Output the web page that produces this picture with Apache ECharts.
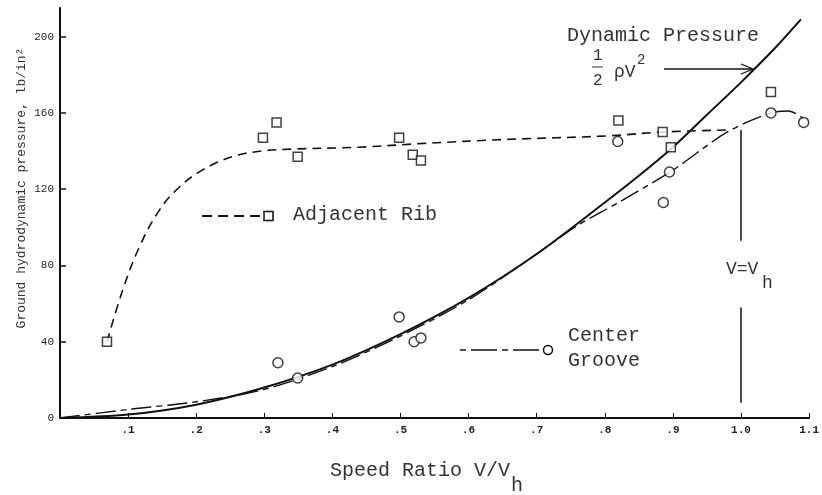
<!DOCTYPE html>
<html>
<head>
<meta charset="utf-8">
<script src="https://cdn.jsdelivr.net/npm/echarts@6/dist/echarts.min.js"></script>
<style>
html,body{margin:0;padding:0;background:#fff;}
#chart{width:822px;height:495px;}
</style>
</head>
<body>
<div id="chart"></div>
<script>
// Dynamic pressure curve (1/2 rho V^2)
const pressureX = [0, 0.1, 0.2, 0.3, 0.4, 0.5, 0.6, 0.7, 0.8, 0.85, 0.9, 0.95, 1.0, 1.05, 1.088];
const pressureY = [0, 1.8, 7, 16, 28, 44, 63, 86, 113, 127, 142, 159, 176, 194, 209];
// Adjacent Rib faired curve
const ribCurveX = [0.069, 0.092, 0.117, 0.146, 0.175, 0.209, 0.253, 0.296, 0.34, 0.438, 0.535, 0.65, 0.807, 0.886, 0.98];
const ribCurveY = [40, 67, 90, 109, 121, 130, 137, 140, 141, 142, 144, 146, 148, 150, 151];
// Center Groove faired curve
const grooveCurveX = [0, 0.1, 0.2, 0.3, 0.4, 0.5, 0.6, 0.7, 0.76, 0.82, 0.9, 0.98, 1.044, 1.07, 1.092];
const grooveCurveY = [0, 4.5, 8.5, 15, 27, 43, 62, 86, 101, 113, 130, 150, 160, 161, 157];
// Measured points
const ribPointsX = [0.069, 0.298, 0.318, 0.349, 0.498, 0.518, 0.530, 0.820, 0.885, 0.897, 1.044];
const ribPointsY = [40, 147, 155, 137, 147, 138, 135, 156, 150, 142, 171];
const groovePointsX = [0.320, 0.349, 0.498, 0.520, 0.530, 0.819, 0.886, 0.895, 1.044, 1.092];
const groovePointsY = [29, 21, 53, 40, 42, 145, 113, 129, 160, 155];
// V = Vh marker line segments
const vhLowerY = [8, 58];
const vhUpperY = [93, 151];
const vhX = 1.0;
// Axis ticks
const yTicks = [0, 40, 80, 120, 160, 200];
const xTickLabels = ['', '.1', '.2', '.3', '.4', '.5', '.6', '.7', '.8', '.9', '1.0', '1.1'];

const zip = (xs, ys) => xs.map((x, i) => [x, ys[i]]);
const MONO = '"Liberation Mono", "DejaVu Sans Mono", monospace';
const INK = '#111';
const TXT = '#333';

const chart = echarts.init(document.getElementById('chart'), null, {renderer: 'canvas'});

const option = {
  animation: false,
  backgroundColor: '#fff',
  grid: {left: 60, right: 9, top: 8, bottom: 77, containLabel: false},
  xAxis: {
    type: 'value', min: 0, max: 1.1, interval: 0.1,
    axisLine: {show: true, lineStyle: {color: INK, width: 2}},
    axisTick: {show: true, inside: true, length: 5, lineStyle: {color: INK, width: 1}},
    axisLabel: {
      margin: 7, color: '#222', fontFamily: MONO, fontSize: 11, fontWeight: 'bold',
      formatter: v => xTickLabels[Math.round(v * 10)] || ''
    },
    splitLine: {show: false}
  },
  yAxis: {
    type: 'value', min: 0, max: 215, interval: 40,
    axisLine: {show: true, lineStyle: {color: INK, width: 2}},
    axisTick: {show: true, inside: true, length: 6, lineStyle: {color: INK, width: 1.5}},
    axisLabel: {
      margin: 6, color: '#222', fontFamily: MONO, fontSize: 11,
      showMaxLabel: false,
      formatter: v => yTicks.indexOf(v) >= 0 ? String(v) : ''
    },
    splitLine: {show: false}
  },
  series: [
    {
      name: 'Dynamic Pressure', type: 'line', smooth: 0.3, symbol: 'none',
      data: zip(pressureX, pressureY),
      lineStyle: {color: INK, width: 2}
    },
    {
      name: 'Adjacent Rib curve', type: 'line', smooth: 0.4, symbol: 'none',
      data: zip(ribCurveX, ribCurveY),
      lineStyle: {color: INK, width: 1.6, type: [9, 6]}
    },
    {
      name: 'Center Groove curve', type: 'line', smooth: 0.3, symbol: 'none',
      data: zip(grooveCurveX, grooveCurveY),
      lineStyle: {color: INK, width: 1.4, type: [20, 5, 6, 5]}
    },
    {
      name: 'Adjacent Rib', type: 'scatter', symbol: 'rect', symbolSize: 9,
      data: zip(ribPointsX, ribPointsY),
      itemStyle: {color: '#fff', borderColor: INK, borderWidth: 1.5}, z: 5
    },
    {
      name: 'Center Groove', type: 'scatter', symbol: 'circle', symbolSize: 10,
      data: zip(groovePointsX, groovePointsY),
      itemStyle: {color: '#fff', borderColor: INK, borderWidth: 1.5}, z: 5
    },
    {
      name: 'Vh lower', type: 'line', symbol: 'none',
      data: vhLowerY.map(y => [vhX, y]),
      lineStyle: {color: INK, width: 1.5}
    },
    {
      name: 'Vh upper', type: 'line', symbol: 'none',
      data: vhUpperY.map(y => [vhX, y]),
      lineStyle: {color: INK, width: 1.5}
    }
  ],
  graphic: [
    // Y axis title
    {type: 'text', x: 22, y: 188, rotation: Math.PI / 2,
     style: {text: 'Ground hydrodynamic pressure, lb/in\u00B2', font: '13px ' + MONO, fill: TXT, align: 'center', verticalAlign: 'middle'}},
    // Dynamic Pressure annotation
    {type: 'text', left: 567, top: 26, style: {text: 'Dynamic Pressure', font: '20px ' + MONO, fill: TXT}},
    {type: 'text', left: 593, top: 48, style: {text: '1', font: '16px ' + MONO, fill: TXT}},
    {type: 'line', shape: {x1: 592, y1: 67, x2: 603, y2: 67}, style: {stroke: TXT, lineWidth: 1}},
    {type: 'text', left: 593, top: 73, style: {text: '2', font: '16px ' + MONO, fill: TXT}},
    {type: 'text', left: 614, top: 63, style: {text: '\u03C1V', font: '18px ' + MONO, fill: TXT}},
    {type: 'text', left: 637, top: 53, style: {text: '2', font: '14px ' + MONO, fill: TXT}},
    {type: 'line', shape: {x1: 664, y1: 69, x2: 752, y2: 69}, style: {stroke: INK, lineWidth: 1.3}},
    {type: 'polyline', shape: {points: [[741, 64], [753, 69], [741, 74]]}, style: {stroke: INK, lineWidth: 1.3, fill: null}},
    // Adjacent Rib legend
    {type: 'line', shape: {x1: 202, y1: 216, x2: 262, y2: 216}, style: {stroke: INK, lineWidth: 1.8, lineDash: [10, 6]}},
    {type: 'rect', shape: {x: 264, y: 211.5, width: 9, height: 9}, style: {stroke: INK, lineWidth: 1.5, fill: '#fff'}},
    {type: 'text', left: 293, top: 205, style: {text: 'Adjacent Rib', font: '20px ' + MONO, fill: TXT}},
    // Center Groove legend
    {type: 'line', shape: {x1: 460, y1: 350, x2: 543, y2: 350}, style: {stroke: INK, lineWidth: 1.6, lineDash: [6, 5, 26, 5]}},
    {type: 'circle', shape: {cx: 548, cy: 350, r: 4.5}, style: {stroke: INK, lineWidth: 1.5, fill: '#fff'}},
    {type: 'text', left: 568, top: 326, style: {text: 'Center', font: '20px ' + MONO, fill: TXT}},
    {type: 'text', left: 568, top: 351, style: {text: 'Groove', font: '20px ' + MONO, fill: TXT}},
    // V = Vh label
    {type: 'text', left: 726, top: 260, style: {text: 'V=V', font: '18px ' + MONO, fill: TXT}},
    {type: 'text', left: 762, top: 274, style: {text: 'h', font: '18px ' + MONO, fill: TXT}},
    // X axis title
    {type: 'text', left: 330, top: 461, style: {text: 'Speed Ratio V/V', font: '20px ' + MONO, fill: TXT}},
    {type: 'text', left: 511, top: 476, style: {text: 'h', font: '20px ' + MONO, fill: TXT}}
  ]
};
chart.setOption(option);
</script>
</body>
</html>
